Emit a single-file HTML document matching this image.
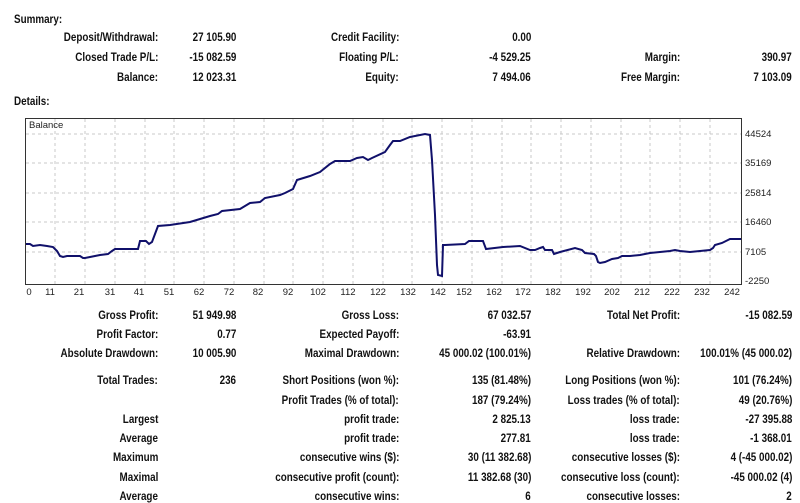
<!DOCTYPE html>
<html><head><meta charset="utf-8"><style>
body{margin:0;background:#fff;width:800px;height:501px;overflow:hidden;position:relative;font-family:"Liberation Sans",sans-serif;}
.t{position:absolute;font-size:12px;font-weight:bold;color:#111;white-space:nowrap;line-height:14px;}
.t span{display:inline-block;transform:scaleX(.82);}
.r{text-align:right;}
.r span{transform-origin:right center;}
.l span{transform-origin:left center;}
</style></head><body>
<div id="c"></div>
<svg style="position:absolute;left:0;top:0" width="800" height="501">
<g stroke="#c8c8c8" stroke-dasharray="3,3" stroke-width="1">
<line x1="55" y1="119" x2="55" y2="284"/><line x1="85" y1="119" x2="85" y2="284"/><line x1="115" y1="119" x2="115" y2="284"/><line x1="145" y1="119" x2="145" y2="284"/><line x1="174" y1="119" x2="174" y2="284"/><line x1="204" y1="119" x2="204" y2="284"/><line x1="234" y1="119" x2="234" y2="284"/><line x1="264" y1="119" x2="264" y2="284"/><line x1="293" y1="119" x2="293" y2="284"/><line x1="323" y1="119" x2="323" y2="284"/><line x1="353" y1="119" x2="353" y2="284"/><line x1="383" y1="119" x2="383" y2="284"/><line x1="412" y1="119" x2="412" y2="284"/><line x1="442" y1="119" x2="442" y2="284"/><line x1="472" y1="119" x2="472" y2="284"/><line x1="502" y1="119" x2="502" y2="284"/><line x1="531" y1="119" x2="531" y2="284"/><line x1="561" y1="119" x2="561" y2="284"/><line x1="591" y1="119" x2="591" y2="284"/><line x1="621" y1="119" x2="621" y2="284"/><line x1="650" y1="119" x2="650" y2="284"/><line x1="680" y1="119" x2="680" y2="284"/><line x1="710" y1="119" x2="710" y2="284"/>
<line x1="26" y1="134" x2="741" y2="134"/><line x1="26" y1="163" x2="741" y2="163"/><line x1="26" y1="193" x2="741" y2="193"/><line x1="26" y1="222" x2="741" y2="222"/><line x1="26" y1="252" x2="741" y2="252"/>
</g>
<rect x="25.5" y="118.5" width="716" height="166" fill="none" stroke="#333" stroke-width="1"/>
<g font-family="Liberation Sans,sans-serif" font-size="9.5" fill="#222">
<text x="29" y="128">Balance</text>
<text x="745" y="137">44524</text><text x="745" y="166">35169</text><text x="745" y="196">25814</text><text x="745" y="225">16460</text><text x="745" y="255">7105</text><text x="745" y="284">-2250</text>
<g text-anchor="middle">
<text x="29" y="295">0</text><text x="50" y="295">11</text><text x="79" y="295">21</text><text x="110" y="295">31</text><text x="139" y="295">41</text><text x="169" y="295">51</text><text x="199" y="295">62</text><text x="229" y="295">72</text><text x="258" y="295">82</text><text x="288" y="295">92</text><text x="318" y="295">102</text><text x="348" y="295">112</text><text x="378" y="295">122</text><text x="408" y="295">132</text><text x="438" y="295">142</text><text x="464" y="295">152</text><text x="494" y="295">162</text><text x="523" y="295">172</text><text x="553" y="295">182</text><text x="583" y="295">192</text><text x="612" y="295">202</text><text x="642" y="295">212</text><text x="672" y="295">222</text><text x="702" y="295">232</text><text x="732" y="295">242</text>
</g></g>
<polyline fill="none" stroke="#10106a" stroke-width="2" points="26,244 30,244 33,246 40,245 47,246 53,247 57,251 60,256 63,257 67,256 80,256 83,258 85,258 90,257 100,255 108,254 112,251 115,249 138,249 140,241 146,241 149,244 152,242 158,226 170,225 190,222 200,219 210,216 218,214 222,211 240,209 245,206 250,203 260,202 265,198 280,195 285,193 293,189 297,180 310,176 320,172 330,164 335,161 350,161 357,158 363,157 368,160 372,158 385,152 390,145 393,141 400,141 410,137 425,134 430,135 432,160 435,215 437,265 438,275 442,276 443,245 445,245 465,244 469,241 483,241 486,249 503,247 520,246 530,250 535,250 540,248 543,247 545,250 552,250 554,254 560,252 575,248 582,250 585,253 594,254 596,256 598,262 600,263 605,262 612,259 618,258 622,256 630,256 640,255 650,253 660,252 670,251 675,250 680,251 690,252 700,251 710,250 713,248 715,245 722,243 730,239 741,239"/>
</svg>
<script>
const X={a:158,b:236,c:399,d:531,e:680,f:792};
const L=[
['l',14,19,'Summary:'],['l',14,101,'Details:'],
['a',37,'Deposit/Withdrawal:'],['b',37,'27 105.90'],['c',37,'Credit Facility:'],['d',37,'0.00'],
['a',57,'Closed Trade P/L:'],['b',57,'-15 082.59'],['c',57,'Floating P/L:'],['d',57,'-4 529.25'],['e',57,'Margin:'],['f',57,'390.97'],
['a',77,'Balance:'],['b',77,'12 023.31'],['c',77,'Equity:'],['d',77,'7 494.06'],['e',77,'Free Margin:'],['f',77,'7 103.09'],
['a',315,'Gross Profit:'],['b',315,'51 949.98'],['c',315,'Gross Loss:'],['d',315,'67 032.57'],['e',315,'Total Net Profit:'],['f',315,'-15 082.59'],
['a',334,'Profit Factor:'],['b',334,'0.77'],['c',334,'Expected Payoff:'],['d',334,'-63.91'],
['a',353,'Absolute Drawdown:'],['b',353,'10 005.90'],['c',353,'Maximal Drawdown:'],['d',353,'45 000.02 (100.01%)'],['e',353,'Relative Drawdown:'],['f',353,'100.01% (45 000.02)'],
['a',380,'Total Trades:'],['b',380,'236'],['c',380,'Short Positions (won %):'],['d',380,'135 (81.48%)'],['e',380,'Long Positions (won %):'],['f',380,'101 (76.24%)'],
['c',400,'Profit Trades (% of total):'],['d',400,'187 (79.24%)'],['e',400,'Loss trades (% of total):'],['f',400,'49 (20.76%)'],
['a',419,'Largest'],['c',419,'profit trade:'],['d',419,'2 825.13'],['e',419,'loss trade:'],['f',419,'-27 395.88'],
['a',438,'Average'],['c',438,'profit trade:'],['d',438,'277.81'],['e',438,'loss trade:'],['f',438,'-1 368.01'],
['a',457,'Maximum'],['c',457,'consecutive wins ($):'],['d',457,'30 (11 382.68)'],['e',457,'consecutive losses ($):'],['f',457,'4 (-45 000.02)'],
['a',477,'Maximal'],['c',477,'consecutive profit (count):'],['d',477,'11 382.68 (30)'],['e',477,'consecutive loss (count):'],['f',477,'-45 000.02 (4)'],
['a',496,'Average'],['c',496,'consecutive wins:'],['d',496,'6'],['e',496,'consecutive losses:'],['f',496,'2']];
let h='';
for(const r of L){
 if(r[0]=='l')h+=`<div class="t l" style="left:${r[1]}px;top:${r[2]-7}px"><span>${r[3]}</span></div>`;
 else h+=`<div class="t r" style="right:${800-X[r[0]]}px;top:${r[1]-7}px"><span>${r[2]}</span></div>`;
}
document.getElementById('c').innerHTML=h;
</script>
</body></html>
